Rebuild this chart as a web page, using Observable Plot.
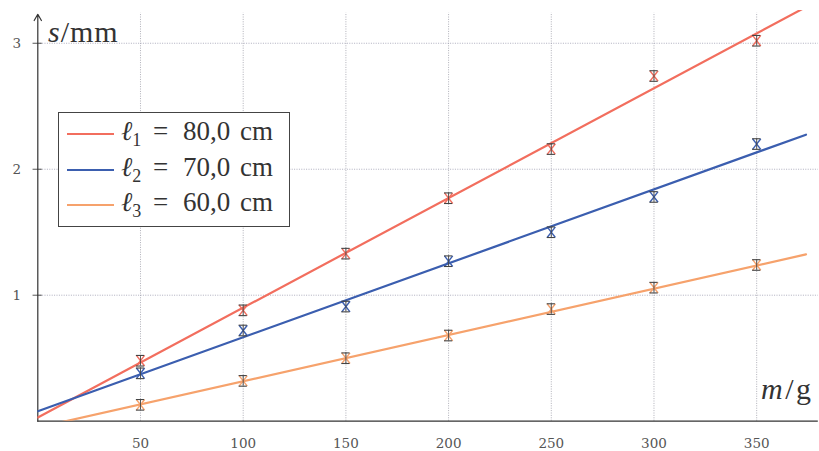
<!DOCTYPE html>
<html>
<head>
<meta charset="utf-8">
<script src="https://cdn.jsdelivr.net/npm/d3@7"></script>
<script src="https://cdn.jsdelivr.net/npm/@observablehq/plot@0.6"></script>
<style>
  body { margin: 0; background: #fff; }
  #wrap { position: relative; width: 819px; height: 451px; overflow: hidden; }
  .lab { position: absolute; font-family: "Liberation Serif", "DejaVu Serif", serif; color: #333; white-space: nowrap; }
  #legend { position: absolute; left: 58px; top: 112px; width: 232px; height: 115px; box-sizing: border-box;
            border: 1px solid #444; background: #fff; }
  .row { position: absolute; left: 0; height: 30px; width: 100%; }
  .sw { position: absolute; left: 8px; width: 47px; height: 0; border-top: 2.4px solid; top: 14px; }
  .t { position: absolute; top: -3px; font-family: "Liberation Serif", "DejaVu Serif", serif;
       font-size: 27px; color: #333; line-height: 30px; white-space: nowrap; }
  .t sub { font-size: 18px; vertical-align: -6px; line-height: 0; }
</style>
</head>
<body>
<div id="wrap"></div>
<script>
// ---- data ----
const masses = [50, 100, 150, 200, 250, 300, 350];          // m / g
const s1 = [0.48, 0.88, 1.33, 1.77, 2.16, 2.74, 3.02];     // l1 = 80,0 cm
const s2 = [0.38, 0.72, 0.91, 1.27, 1.50, 1.78, 2.20];     // l2 = 70,0 cm
const s3 = [0.13, 0.32, 0.50, 0.68, 0.89, 1.06, 1.24];     // l3 = 60,0 cm
const errS = [0.042, 0.042, 0.042, 0.042, 0.042, 0.042, 0.042];
const seriesIdx = ["1", "2", "3"];
const seriesLen = ["80,0", "70,0", "60,0"];
const colors = ["#f26e5e", "#3b5eaf", "#f6a26c"];
const fitSlope = [0.00871, 0.00587, 0.003675];
const fitIntercept = [0.030, 0.079, -0.050];
const fitRange = [0, 374];
const xTicks = [50, 100, 150, 200, 250, 300, 350];
const yTicks = [1, 2, 3];

const allS = [s1, s2, s3];
const points = allS.flatMap((arr, k) => arr.map((v, i) => ({m: masses[i], s: v, e: errS[i], k})));
const fitLines = allS.map((_, k) => fitRange.map(x => ({x, y: fitIntercept[k] + fitSlope[k] * x, k})));
const capHalf = 2;

const plot = Plot.plot({
  width: 819,
  height: 451,
  marginLeft: 37.3,
  marginRight: 1.2,
  marginTop: 10,
  marginBottom: 30.3,
  x: {domain: [0, 380], axis: null},
  y: {domain: [0, 3.26], axis: null},
  style: {background: "transparent"},
  marks: [
    // grid
    Plot.ruleX(xTicks, {y1: 0, y2: 3.24, stroke: "#9a9aa6", strokeWidth: 0.8, strokeDasharray: "1,1.4"}),
    Plot.ruleY(yTicks, {x1: 0, x2: 380, stroke: "#9a9aae", strokeWidth: 0.8, strokeDasharray: "1,1.4"}),
    // y tick marks
    Plot.ruleY(yTicks, {x1: -2.3, x2: 2.2, stroke: "#444", strokeWidth: 0.9}),
    // axes
    Plot.ruleY([0], {x1: 0, x2: 380, stroke: "#333", strokeWidth: 1.2}),
    Plot.arrow([0], {x1: 0, y1: 0, x2: 0, y2: 3.23, stroke: "#333", strokeWidth: 1.2, headLength: 9, bend: 0}),
    // tick labels
    Plot.text(xTicks, {x: d => d, y: 0, dy: 22, text: d => String(d), fontFamily: "DejaVu Serif", fontSize: 13.5, fill: "#555"}),
    Plot.text(yTicks, {x: 0, y: d => d, dx: -21, text: d => String(d), fontFamily: "DejaVu Serif", fontSize: 13.5, fill: "#555"}),
    // fit lines
    ...fitLines.map((ln, k) => Plot.line(ln, {x: "x", y: "y", stroke: colors[k], strokeWidth: 2.2, clip: true})),
    // markers (colored X between caps)
    Plot.link(points, {x1: d => d.m - capHalf, y1: d => d.s - d.e, x2: d => d.m + capHalf, y2: d => d.s + d.e, stroke: d => colors[d.k], strokeWidth: 1.4}),
    Plot.link(points, {x1: d => d.m + capHalf, y1: d => d.s - d.e, x2: d => d.m - capHalf, y2: d => d.s + d.e, stroke: d => colors[d.k], strokeWidth: 1.4}),
    // error bars
    Plot.ruleX(points, {x: "m", y1: d => d.s - d.e, y2: d => d.s + d.e, stroke: "#444", strokeWidth: 0.9}),
    Plot.ruleY(points, {y: d => d.s - d.e, x1: d => d.m - capHalf, x2: d => d.m + capHalf, stroke: "#444", strokeWidth: 1.1}),
    Plot.ruleY(points, {y: d => d.s + d.e, x1: d => d.m - capHalf, x2: d => d.m + capHalf, stroke: "#444", strokeWidth: 1.1})
  ]
});

const wrap = document.getElementById("wrap");
wrap.appendChild(plot);

// axis labels
const yl = document.createElement("div");
yl.className = "lab";
yl.style.left = "48px"; yl.style.top = "15px"; yl.style.fontSize = "30px"; yl.style.letterSpacing = "1px";
yl.innerHTML = "<i>s</i>/mm";
wrap.appendChild(yl);
const xl = document.createElement("div");
xl.className = "lab";
xl.style.left = "761px"; xl.style.top = "372px"; xl.style.fontSize = "30px"; xl.style.letterSpacing = "2.5px";
xl.innerHTML = "<i>m</i>/g";
wrap.appendChild(xl);

// legend
const lg = document.createElement("div");
lg.id = "legend";
seriesIdx.forEach((idx, k) => {
  const row = document.createElement("div");
  row.className = "row";
  row.style.top = (6 + k * 35.5) + "px";
  const sw = document.createElement("div");
  sw.className = "sw";
  sw.style.borderTopColor = colors[k];
  row.appendChild(sw);
  const parts = [
    [62, "<i>ℓ</i><sub>" + idx + "</sub>"],
    [94, "="],
    [124, seriesLen[k]],
    [181, "cm"]
  ];
  parts.forEach(([left, html]) => {
    const s = document.createElement("div");
    s.className = "t";
    s.style.left = left + "px";
    s.innerHTML = html;
    row.appendChild(s);
  });
  lg.appendChild(row);
});
wrap.appendChild(lg);
</script>
</body>
</html>
